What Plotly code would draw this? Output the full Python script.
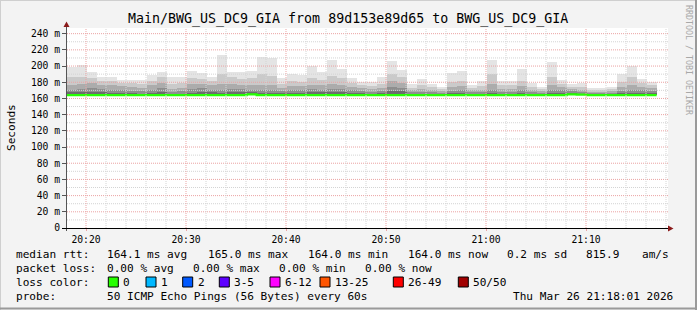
import plotly.graph_objects as go
import pandas as pd

# ---------------- data ----------------
bar_start = "2026-03-26 20:18:04"   # start of first 60 s interval
step_s = 60

rtt_min = [163.8] * 59

rtt_median = [164.0, 164.0, 164.0, 164.0, 164.0, 164.0, 164.0, 164.0, 164.0, 164.0,
              164.0, 164.0, 164.0, 164.0, 164.0, 164.0, 164.0, 164.0, 165.0, 164.0,
              164.0, 164.0, 164.0, 164.0, 164.0, 164.0, 164.0, 164.0, 164.0, 164.0,
              164.0, 164.0, 164.0, 164.0, 164.0, 164.0, 164.0, 164.0, 164.0, 164.0,
              164.0, 164.0, 164.0, 164.0, 164.0, 164.0, 164.0, 164.0, 164.0, 164.0,
              165.0, 164.8, 164.0, 164.0, 164.0, 164.0, 164.0, 164.0, 164.0]

rtt_d1 = [167.5, 168.5, 168.0, 167.5, 167.0, 166.5, 166.5, 166.0, 167.0, 168.0,
          166.0, 166.0, 167.0, 168.5, 167.5, 167.0, 167.5, 168.0, 167.5, 167.0,
          167.0, 166.5, 167.0, 167.0, 167.5, 167.5, 167.5, 168.0, 167.0, 166.5,
          166.0, 166.5, 169.0, 169.0, 165.5, 166.0, 166.0, 165.5, 166.5, 167.0,
          165.5, 166.0, 167.0, 166.0, 166.0, 166.5, 165.5, 165.5, 167.0, 167.0,
          167.0, 166.5, 165.5, 165.5, 165.5, 166.5, 167.0, 167.0, 167.0]

rtt_d2 = [171.0, 172.0, 173.0, 172.0, 171.0, 170.0, 169.5, 169.0, 171.0, 173.0,
          168.5, 169.0, 172.0, 173.0, 171.0, 171.0, 172.0, 172.0, 171.0, 171.0,
          170.5, 169.5, 171.0, 170.5, 171.5, 171.0, 172.0, 172.0, 170.0, 169.0,
          168.5, 169.5, 174.0, 173.0, 167.5, 168.5, 168.0, 167.0, 169.5, 170.5,
          167.5, 168.0, 171.0, 168.5, 168.5, 170.0, 167.5, 167.0, 171.0, 170.0,
          169.0, 168.5, 167.0, 167.0, 167.0, 169.5, 171.0, 170.0, 169.5]

rtt_d3 = [177.0, 178.0, 179.0, 177.0, 176.0, 175.0, 174.0, 173.0, 176.0, 179.0,
          172.0, 173.0, 178.0, 178.0, 176.0, 178.0, 178.0, 177.0, 176.0, 177.0,
          176.0, 173.0, 175.0, 175.0, 177.0, 176.0, 178.0, 177.0, 174.0, 172.5,
          171.5, 173.0, 181.0, 179.0, 170.0, 172.0, 171.0, 169.0, 174.0, 175.0,
          170.0, 171.0, 178.0, 172.0, 172.0, 175.0, 170.5, 169.0, 177.0, 174.0,
          171.5, 171.0, 169.0, 169.0, 169.0, 174.0, 177.0, 174.0, 173.0]

rtt_d4 = [186.0, 187.0, 185.0, 182.0, 181.0, 179.0, 178.5, 178.0, 182.0, 186.0,
          178.0, 179.0, 185.0, 184.0, 181.0, 190.0, 186.0, 184.0, 185.0, 190.0,
          188.0, 178.0, 181.0, 180.0, 185.0, 183.0, 188.0, 185.0, 179.0, 176.0,
          175.0, 178.0, 190.0, 186.0, 173.0, 177.0, 174.0, 171.5, 180.0, 181.0,
          173.0, 175.0, 190.0, 176.0, 177.0, 182.0, 174.0, 171.5, 187.0, 178.0,
          174.0, 174.5, 171.0, 171.0, 171.5, 180.0, 186.0, 179.0, 177.0]

rtt_max = [198.3, 201.7, 193.0, 186.8, 186.4, 183.0, 182.2, 183.0, 189.3, 193.0,
           186.8, 186.8, 194.5, 191.8, 186.8, 214.0, 193.0, 193.0, 194.5, 211.5,
           210.5, 185.2, 190.5, 189.3, 200.4, 193.0, 207.8, 196.7, 185.6, 180.6,
           179.8, 186.4, 206.6, 195.5, 177.8, 184.3, 177.8, 174.0, 191.4, 194.2,
           177.0, 181.0, 207.8, 181.0, 182.0, 196.7, 179.0, 174.5, 205.2, 183.0,
           177.8, 179.0, 173.5, 173.5, 174.0, 190.5, 200.4, 184.3, 180.3]

y_tick_values = [0, 20, 40, 60, 80, 100, 120, 140, 160, 180, 200, 220, 240]
y_tick_labels = ["0", "20 m", "40 m", "60 m", "80 m", "100 m", "120 m", "140 m",
                 "160 m", "180 m", "200 m", "220 m", "240 m"]
x_tick_times = ["2026-03-26 20:20", "2026-03-26 20:30", "2026-03-26 20:40",
                "2026-03-26 20:50", "2026-03-26 21:00", "2026-03-26 21:10"]
x_tick_labels = ["20:20", "20:30", "20:40", "20:50", "21:00", "21:10"]
x_range = ["2026-03-26 20:18:06", "2026-03-26 21:18:12"]
y_range = [0, 247]

title_text = "Main/BWG_US_DC9_GIA from 89d153e89d65 to BWG_US_DC9_GIA"
legend_line1 = [("median rtt:", 16), ("164.1 ms avg", 107.3), ("165.0 ms max", 207.7),
                ("164.0 ms min", 307.7), ("164.0 ms now", 407.7), ("0.2 ms sd", 507.3),
                ("815.9", 586), ("am/s", 642.3)]
legend_line2 = [("packet loss:", 16), ("0.00 % avg", 107.3), ("0.00 % max", 193.3),
                ("0.00 % min", 279), ("0.00 % now", 365)]
loss_labels = ["0", "1", "2", "3-5", "6-12", "13-25", "26-49", "50/50"]
loss_colors = ["#26ff00", "#00b8ff", "#0059ff", "#5e00ff", "#ff00ff", "#ff5500",
               "#ff0000", "#a10000"]
loss_box_x = [108.3, 146, 182.7, 219.3, 270, 320, 393.3, 458.3]
legend_line4 = [("probe:", 16), ("50 ICMP Echo Pings (56 Bytes) every 60s", 107.3),
                ("Thu Mar 26 21:18:01 2026", 513.3)]

# ---------------- layout geometry ----------------
W, H = 697, 310
PL, PR, PT, PB = 67, 668, 28, 228
MONO = "DejaVu Sans Mono"


def fx(px):
    return (px - PL) / (PR - PL)


def fy(py):
    return (PB - py) / (PB - PT)


starts = pd.date_range(bar_start, periods=len(rtt_max), freq=f"{step_s}s")
centers = starts + pd.Timedelta(seconds=step_s / 2)

fig = go.Figure()

levels = [rtt_min, rtt_d1, rtt_d2, rtt_d3, rtt_d4, rtt_max]
smoke_colors = ["#6c6c6c", "#8e8e8e", "#acacac", "#cacaca", "#e4e4e4"]
for i, col in enumerate(smoke_colors):
    lo, hi = levels[i], levels[i + 1]
    fig.add_trace(go.Bar(
        x=centers, base=lo, y=[h - l for l, h in zip(lo, hi)],
        width=step_s * 1000, marker=dict(color=col, line=dict(width=0)),
        hoverinfo="skip", showlegend=False))

# median (step line)
step_x = list(starts) + [starts[-1] + pd.Timedelta(seconds=step_s)]
step_y = list(rtt_median) + [rtt_median[-1]]
fig.add_trace(go.Scatter(x=step_x, y=step_y, mode="lines", line_shape="hv",
                         line=dict(color="#26ff00", width=2.2),
                         hoverinfo="skip", showlegend=False))

shapes = []
dot = "1px,1px"
# horizontal grid (minor at mid points, major at labelled ticks)
for v in y_tick_values:
    mv = v + 10
    if mv < y_range[1]:
        shapes.append(dict(type="line", xref="paper", yref="y", x0=0, x1=1, y0=mv, y1=mv,
                           line=dict(color="#d4d4d4", width=1, dash=dot), layer="above"))
for v in y_tick_values[1:]:
    shapes.append(dict(type="line", xref="paper", yref="y", x0=0, x1=1, y0=v, y1=v,
                       line=dict(color="#eba3a3", width=1, dash=dot), layer="above"))
# vertical grid
minor_times = pd.date_range("2026-03-26 20:20", "2026-03-26 21:18", freq="2min")
major_set = set(pd.to_datetime(x_tick_times))
for t in minor_times:
    if t in major_set:
        continue
    shapes.append(dict(type="line", xref="x", yref="paper", x0=t, x1=t, y0=0, y1=1,
                       line=dict(color="#d4d4d4", width=1, dash=dot), layer="above"))
for t in pd.to_datetime(x_tick_times):
    shapes.append(dict(type="line", xref="x", yref="paper", x0=t, x1=t, y0=0, y1=1,
                       line=dict(color="#eba3a3", width=1, dash=dot), layer="above"))

# axes lines and arrows
shapes.append(dict(type="line", xref="paper", yref="paper", x0=fx(66.5), x1=fx(66.5),
                   y0=fy(231), y1=fy(24), line=dict(color="#555555", width=1)))
shapes.append(dict(type="line", xref="paper", yref="paper", x0=fx(62), x1=fx(670),
                   y0=fy(228.5), y1=fy(228.5), line=dict(color="#000000", width=1)))
shapes.append(dict(type="path", xref="paper", yref="paper",
                   path=f"M {fx(63.5)} {fy(27)} L {fx(66.5)} {fy(21.5)} L {fx(69.5)} {fy(27)} Z",
                   fillcolor="#8b1a1a", line=dict(width=0)))
shapes.append(dict(type="path", xref="paper", yref="paper",
                   path=f"M {fx(668)} {fy(225.5)} L {fx(673.5)} {fy(228.5)} L {fx(668)} {fy(231.5)} Z",
                   fillcolor="#8b1a1a", line=dict(width=0)))

# outer frame
shapes.append(dict(type="line", xref="paper", yref="paper", x0=fx(0), x1=fx(697),
                   y0=fy(0.5), y1=fy(0.5), line=dict(color="#cfcfcf", width=1)))
shapes.append(dict(type="line", xref="paper", yref="paper", x0=fx(0.5), x1=fx(0.5),
                   y0=fy(0), y1=fy(310), line=dict(color="#cfcfcf", width=1)))
shapes.append(dict(type="line", xref="paper", yref="paper", x0=fx(0), x1=fx(697),
                   y0=fy(308.5), y1=fy(308.5), line=dict(color="#9a9a9a", width=2)))
shapes.append(dict(type="line", xref="paper", yref="paper", x0=fx(696), x1=fx(696),
                   y0=fy(0), y1=fy(310), line=dict(color="#9a9a9a", width=2)))

# legend colour boxes
for bx, col in zip(loss_box_x, loss_colors):
    shapes.append(dict(type="rect", xref="paper", yref="paper",
                       x0=fx(bx), x1=fx(bx + 10), y0=fy(287), y1=fy(277),
                       fillcolor=col, line=dict(color="#000000", width=1)))

ann = []


def text(s, x, y, size=11.1, anchor="left", color="#000000", angle=0, yanchor="middle"):
    ann.append(dict(text=s, x=fx(x), y=fy(y), xref="paper", yref="paper",
                    xanchor=anchor, yanchor=yanchor, showarrow=False, textangle=angle,
                    borderpad=0, borderwidth=0,
                    font=dict(family=MONO, size=size, color=color)))


text(title_text, 348, 19, size=13.3, anchor="center")
text("Seconds", 11, 128, size=11.1, anchor="center", angle=-90)
text("RRDTOOL / TOBI OETIKER", 689, 60, size=8.3, anchor="center", color="#a8a8a8", angle=90)
for s, x in legend_line1:
    text(s, x, 254.3)
for s, x in legend_line2:
    text(s, x, 268.3)
text("loss color:", 16, 282.3)
for bx, lab in zip(loss_box_x, loss_labels):
    text(lab, bx + 15, 282.3)
for s, x in legend_line4:
    text(s, x, 296.3)

fig.update_layout(
    width=W, height=H, autosize=False,
    margin=dict(l=PL, r=W - PR, t=PT, b=H - PB, pad=0),
    paper_bgcolor="#f3f3f3", plot_bgcolor="#ffffff",
    barmode="overlay", bargap=0, showlegend=False,
    shapes=shapes, annotations=ann,
    xaxis=dict(type="date", range=x_range, tickvals=x_tick_times, ticktext=x_tick_labels,
               showgrid=False, zeroline=False, showline=False,
               ticks="outside", ticklen=2, tickcolor="#eba3a3",
               tickfont=dict(family=MONO, size=9.7, color="#000000"),
               fixedrange=True),
    yaxis=dict(range=y_range, tickvals=y_tick_values, ticktext=y_tick_labels,
               showgrid=False, zeroline=False, showline=False,
               ticks="outside", ticklen=4, tickcolor="#555555",
               tickfont=dict(family=MONO, size=9.7, color="#000000"),
               fixedrange=True),
)

fig.write_html("out.html")
